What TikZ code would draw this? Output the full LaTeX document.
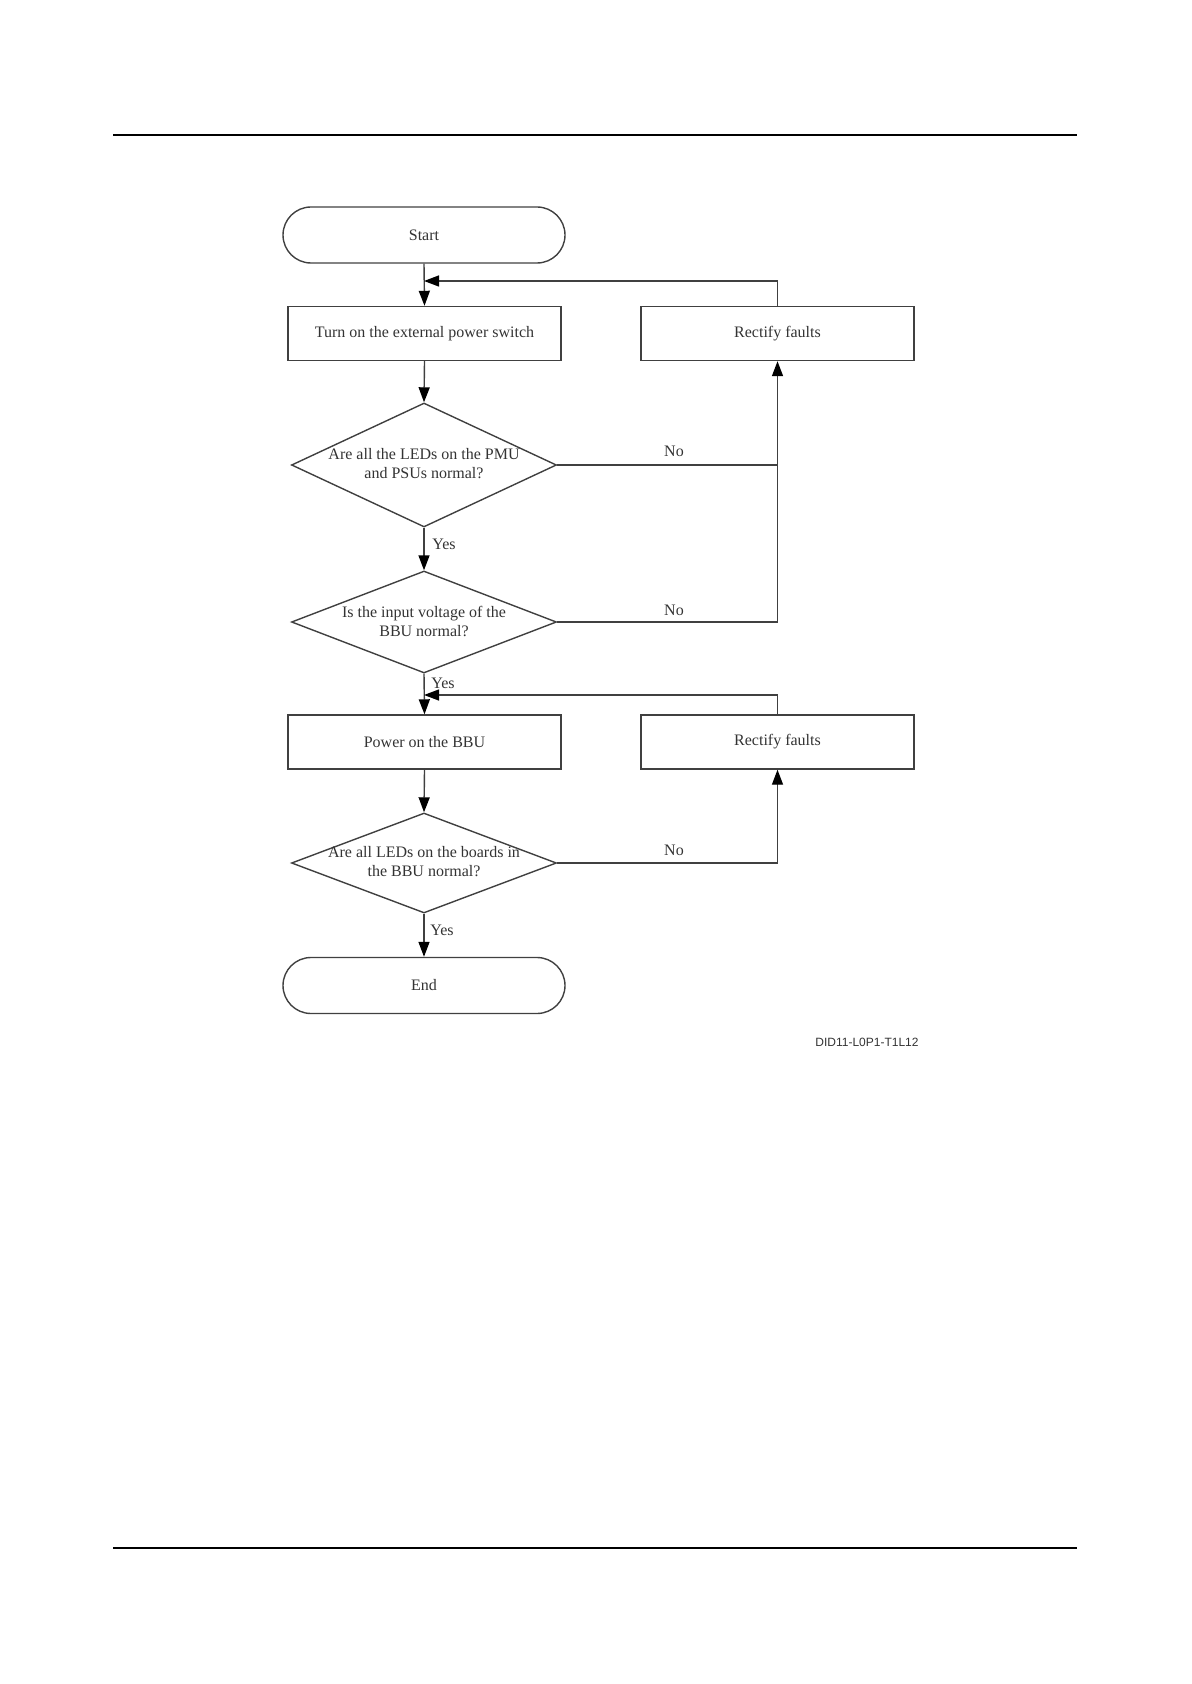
\documentclass[tikz,border=0pt]{standalone}
\usepackage{fontspec}
\setmainfont{Liberation Serif}
\newfontfamily\labelsans{Liberation Sans}
\usetikzlibrary{shapes.geometric,arrows.meta}
\definecolor{linegray}{HTML}{404040}
\definecolor{textgray}{HTML}{333333}
\tikzset{
  box/.style={draw=linegray, line width=0.7pt, rectangle, minimum width=136.5pt, minimum height=27pt, inner sep=0pt, font=\fontsize{8}{9.5}\selectfont, text=textgray},
  term/.style={draw=linegray, line width=0.7pt, rectangle, rounded corners=14pt, minimum width=141pt, minimum height=28pt, inner sep=0pt, font=\fontsize{8}{9.5}\selectfont, text=textgray},
  dia/.style={draw=linegray, line width=0.7pt, diamond, minimum width=132.5pt, inner sep=0pt},
  diatxt/.style={align=center, inner sep=0pt, font=\fontsize{8}{9.5}\selectfont, text=textgray},
  lab/.style={inner sep=0pt, font=\fontsize{8}{9.5}\selectfont, text=textgray},
  conn/.style={draw=linegray, line width=0.7pt},
  arr/.style={conn, -{Triangle[length=7.5pt,width=5.5pt,color=black]}},
  rule/.style={draw=black, line width=0.7pt}
}
\begin{document}
\begin{tikzpicture}[x=0.5pt,y=-0.5pt]
\useasboundingbox (0,0) rectangle (1191,1684);
\coordinate (hl) at (113,135); \coordinate (hr) at (1077,135);
\coordinate (fl) at (113,1548); \coordinate (fr) at (1077,1548);
\draw[rule] (hl) -- (hr);
\draw[rule] (fl) -- (fr);

\node[term] (start) at (424,235) {Start};
\node[box] (turn) at (424.5,333.5) {Turn on the external power switch};
\node[dia, minimum height=62pt] (d1) at (424,465) {};
\node[diatxt] (d1t) at (424,464) {Are all the LEDs on the PMU\\and PSUs normal?};
\node[dia, minimum height=51pt] (d2) at (424,622) {};
\node[diatxt] (d2t) at (424,621) {Is the input voltage of the\\BBU normal?};
\node[box] (power) at (424.5,742) {Power on the BBU};
\node[dia, minimum height=50pt] (d3) at (424,863) {};
\node[diatxt] (d3t) at (424,862) {Are all LEDs on the boards in\\the BBU normal?};
\node[term] (end) at (424,985.5) {End};
\node[box] (rect1) at (777.5,333.5) {Rectify faults};
\node[box] (rect2) at (777.5,742) {Rectify faults};

\coordinate (j1) at (424,281);
\coordinate (j2) at (424,695);
\coordinate (c2) at (777.5,465);

\draw[arr] (start.south) -- (turn.north);
\draw[arr] (rect1.north) |- (j1);
\draw[arr] (turn.south) -- (d1.north);
\draw[arr] (d1.east) -| (rect1.south);
\draw[conn] (d2.east) -| (c2);
\draw[arr] (d1.south) -- (d2.north);
\draw[arr] (d2.south) -- (power.north);
\draw[arr] (rect2.north) |- (j2);
\draw[arr] (power.south) -- (d3.north);
\draw[arr] (d3.east) -| (rect2.south);
\draw[arr] (d3.south) -- (end.north);

\node[lab] (no1) at (674,451) {No};
\node[lab] (no2) at (674,610) {No};
\node[lab] (no3) at (674,850) {No};
\node[lab, anchor=west] (yes1) at (432,544) {Yes};
\node[lab, anchor=west] (yes2) at (431,683) {Yes};
\node[lab, anchor=west] (yes3) at (430,930) {Yes};

\node[inner sep=0pt, font=\labelsans\fontsize{6}{7}\selectfont, text=textgray] (did) at (867,1042) {DID11-L0P1-T1L12};
\end{tikzpicture}
\end{document}
